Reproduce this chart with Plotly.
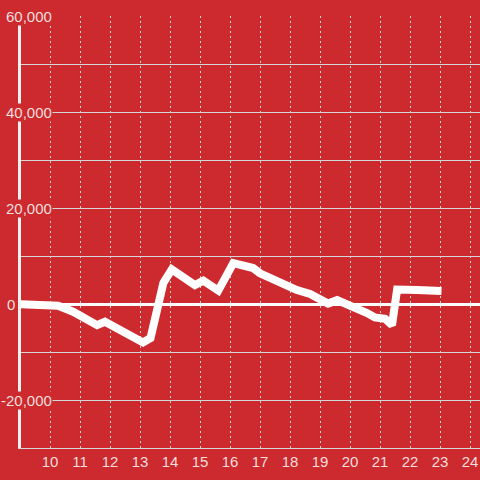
import plotly.graph_objects as go

# Data
hours = [8.9, 10.0, 10.27, 10.77, 11.57, 11.83, 12.27, 12.9, 13.1, 13.35, 13.78, 14.06, 14.4,
         14.83, 15.11, 15.61, 16.11, 16.33, 16.77, 17.0, 17.33, 17.6, 18.23, 18.67, 19.0, 19.27,
         19.57, 20.0, 20.33, 20.57, 20.83, 21.17, 21.4, 21.57, 22.23, 23.05]
values = [0, -200, -350, -1600, -4400, -3700, -5200, -7500, -8000, -7100, 4400, 7200, 5800,
          3950, 4850, 2800, 8500, 8300, 7500, 6400, 5400, 5000, 2900, 2100, 800, 100,
          800, -200, -1400, -1900, -2800, -3100, -4400, 3000, 2900, 2700]

x_ticks = list(range(10, 25))
y_ticks = [-20000, 0, 20000, 40000, 60000]
y_tick_labels = ["-20,000", "0", "20,000", "40,000", "60,000"]

BG = "#cc2a2e"
TXT = "#f3dede"
GRID = "#d6d6d6"

fig = go.Figure()
fig.add_trace(go.Scatter(
    x=hours, y=values, mode="lines",
    line=dict(color="white", width=8),
    hoverinfo="skip", showlegend=False,
))

W, H = 480, 480
ml, mr, mt, mb = 21, 0, 16, 32
plot_h = H - mt - mb
y_min, y_max = -30000, 60000

for v, lab in zip(y_ticks, y_tick_labels):
    right_edge = 16 if v == 0 else 53
    ypix = mt + (y_max - v) / (y_max - y_min) * plot_h
    fig.add_annotation(
        xref="paper", yref="paper",
        x=(right_edge - ml) / (W - ml - mr),
        y=1 - (ypix - mt) / plot_h,
        text=lab, showarrow=False, xanchor="right", yanchor="middle",
        font=dict(family="Liberation Sans, Arial, sans-serif", size=15, color=TXT),
        bgcolor=BG, borderpad=0,
    )

fig.update_layout(
    width=W, height=H,
    margin=dict(l=ml, r=mr, t=mt, b=mb),
    paper_bgcolor=BG, plot_bgcolor=BG,
    font=dict(family="Liberation Sans, Arial, sans-serif", size=15, color=TXT),
    xaxis=dict(
        range=[10 - 29 / 30, 24 + 10 / 30],
        tickvals=x_ticks, ticktext=[str(t) for t in x_ticks],
        showgrid=True, gridcolor=GRID, gridwidth=1, griddash="2px,3px",
        showline=True, linecolor=GRID, linewidth=1,
        zeroline=False, ticks="", fixedrange=True,
    ),
    yaxis=dict(
        range=[y_min, y_max],
        tickvals=list(range(-30000, 60001, 10000)),
        showticklabels=False,
        showgrid=True, gridcolor=GRID, gridwidth=1,
        showline=True, linecolor="#f2f2f2", linewidth=3,
        zeroline=True, zerolinecolor="white", zerolinewidth=3,
        ticks="", fixedrange=True,
    ),
)

fig.write_html("out.html", config={"displayModeBar": False},
               post_script="document.body.style.margin='0';document.body.style.overflow='hidden';")
